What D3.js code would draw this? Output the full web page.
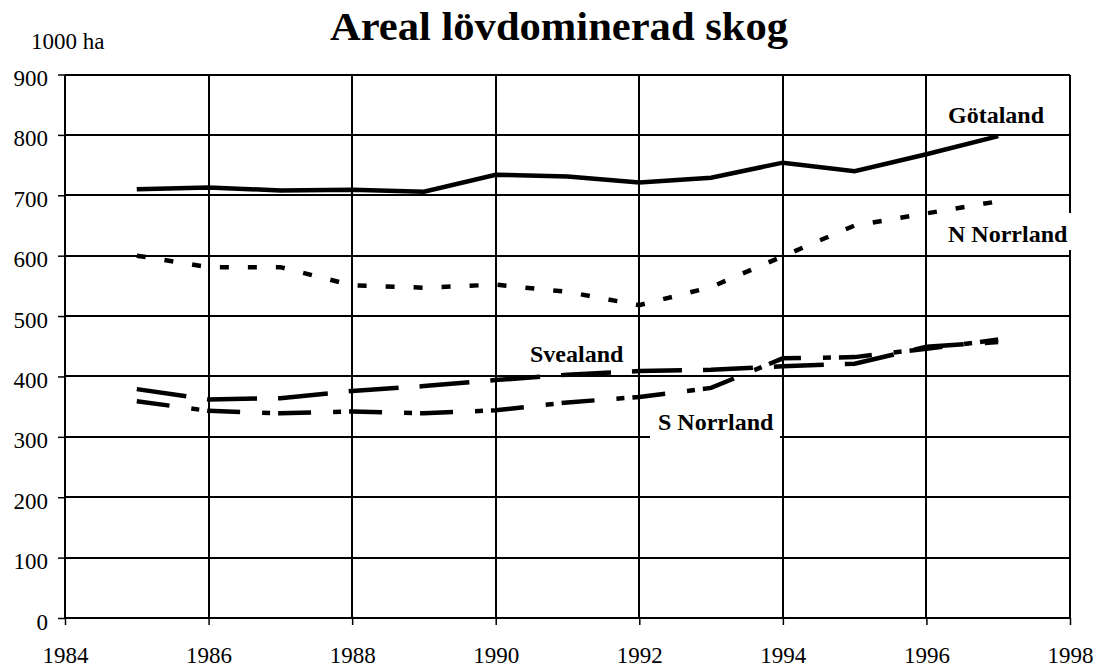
<!DOCTYPE html>
<html>
<head>
<meta charset="utf-8">
<script src="https://cdn.jsdelivr.net/npm/d3@7"></script>
<style>
    body { margin: 0; background: #fff; }
    svg text { font-family: "Liberation Serif", "Times New Roman", serif; fill: #000; }
    .grid line { stroke: #000; stroke-width: 2; shape-rendering: crispEdges; }
    .axis path { display: none; }
    .axis line { stroke: #000; stroke-width: 1.5; }
    .axis text { font-size: 23px; }
    .series { fill: none; stroke: #000; stroke-width: 4.5; }
    .label { font-size: 24px; font-weight: bold; }
</style>
</head>
<body>
<div id="chart"></div>
<script>
var years     = [1985, 1986, 1987, 1988, 1989, 1990, 1991, 1992, 1993, 1994, 1995, 1996, 1997];
var gotaland  = [710, 713, 708, 709, 706, 734, 731, 721, 729, 754, 740, 768, 798];
var nNorrland = [600, 581, 581, 551, 547, 552, 540, 518, 548, 599, 650, 670, 690];
var svealand  = [379, 362, 364, 376, 384, 394, 403, 409, 411, 417, 421, 449, 457];
var sNorrland = [359, 343, 339, 342, 339, 344, 357, 366, 381, 430, 432, 446, 461];

var xTicks = [1984, 1986, 1988, 1990, 1992, 1994, 1996, 1998];
var yTicks = [0, 100, 200, 300, 400, 500, 600, 700, 800, 900];

var width  = 1097;
var height = 669;
var margin = {top: 74.5, right: 27, bottom: 51, left: 65};
var serif  = '"Liberation Serif", "Times New Roman", serif';

var svg = d3.select('#chart').append('svg')
    .attr('width', width)
    .attr('height', height)
    .attr('font-family', serif);

var x = d3.scaleLinear().domain([1984, 1998]).range([margin.left, width - margin.right]);
var y = d3.scaleLinear().domain([0, 900]).range([height - margin.bottom, margin.top]);

// grid
var grid = svg.append('g').attr('class', 'grid');
grid.selectAll('.h')
    .data(yTicks)
    .enter()
    .append('line')
    .attr('x1', x(1984)).attr('x2', x(1998))
    .attr('y1', function(d) { return y(d); })
    .attr('y2', function(d) { return y(d); });
grid.selectAll('.v')
    .data(xTicks)
    .enter()
    .append('line')
    .attr('x1', function(d) { return x(d); })
    .attr('x2', function(d) { return x(d); })
    .attr('y1', y(0)).attr('y2', y(900));

// axes
var yAxis = d3.axisLeft(y).tickValues(yTicks).tickSize(7).tickPadding(10);
svg.append('g')
    .attr('class', 'axis')
    .attr('transform', 'translate(' + x(1984) + ',0)')
    .call(yAxis)
    .attr('font-family', serif)
    .attr('font-size', 23)
    .selectAll('text')
    .attr('dy', '11px');

var xAxis = d3.axisBottom(x).tickValues(xTicks).tickSize(7).tickFormat(d3.format('d'));
svg.append('g')
    .attr('class', 'axis')
    .attr('transform', 'translate(0,' + y(0) + ')')
    .call(xAxis)
    .attr('font-family', serif)
    .attr('font-size', 23)
    .selectAll('text')
    .attr('y', 45)
    .attr('dy', 0);

// lines
var series = [
    {name: 'Götaland',   values: gotaland,  dash: null,        lx: 948, ly: 123},
    {name: 'N Norrland', values: nNorrland, dash: '9,19',      lx: 948, ly: 242},
    {name: 'Svealand',   values: svealand,  dash: '50,21',     lx: 530, ly: 362},
    {name: 'S Norrland', values: sNorrland, dash: '33,22,8,8', lx: 658, ly: 430}
];

var line = d3.line()
    .x(function(d, i) { return x(years[i]); })
    .y(function(d) { return y(d); });

svg.selectAll('.series')
    .data(series)
    .enter()
    .append('path')
    .attr('class', 'series')
    .attr('stroke-dasharray', function(d) { return d.dash; })
    .attr('d', function(d) { return line(d.values); });

// labels with white boxes
series.forEach(function(s) {
    var g = svg.append('g');
    var box = g.append('rect').attr('fill', '#fff');
    var t = g.append('text')
        .attr('class', 'label')
        .attr('x', s.lx)
        .attr('y', s.ly)
        .text(s.name);
    var b = t.node().getBBox();
    box.attr('x', b.x - 8)
        .attr('y', b.y - 8)
        .attr('width', b.width + 14)
        .attr('height', b.height + 11);
});

// title
svg.append('text')
    .attr('x', 559)
    .attr('y', 40)
    .attr('text-anchor', 'middle')
    .attr('textLength', 458)
    .attr('lengthAdjust', 'spacingAndGlyphs')
    .style('font-size', '40px')
    .style('font-weight', 'bold')
    .text('Areal lövdominerad skog');

svg.append('text')
    .attr('x', 31)
    .attr('y', 49)
    .style('font-size', '23px')
    .text('1000 ha');
</script>
</body>
</html>
